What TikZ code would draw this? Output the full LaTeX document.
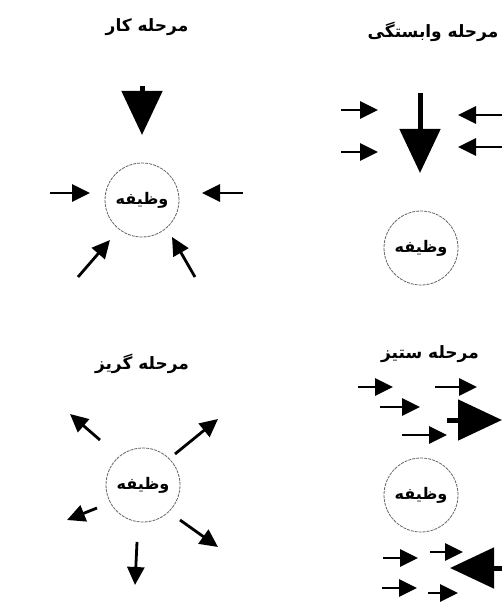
\documentclass[tikz,border=0pt]{standalone}
\usepackage{fontspec}
\usepackage{tikz}
\usetikzlibrary{arrows.meta}
\newfontfamily\arabicfont[Script=Arabic]{DejaVu Sans}
\TeXXeTstate=1

\begin{document}
\begin{tikzpicture}[
  x=1pt, y=-1pt,
  phase/.style={font=\arabicfont\bfseries\fontsize{17}{20}\selectfont, inner sep=0pt},
  task/.style={circle, draw=black!60, dash pattern=on 3pt off 1pt, line width=0.8pt,
               minimum size=74pt, inner sep=0pt,
               font=\arabicfont\bfseries\fontsize{16}{18}\selectfont},
  small/.style={line width=2.8pt, -{Triangle[length=18pt, width=17pt]}},
  big/.style={line width=5pt, -{Triangle[length=44pt, width=40pt]}},
]
  \useasboundingbox (0,0) rectangle (502,604);

  % work phase
  \node[phase] (workT) at (147,27) {\beginR مرحله کار\endR};
  \node[task] (workC) at (142,200) {\beginR وظیفه\endR};
  \draw[big] (142,86) -- (142,135);
  \draw[small] (50,193) -- (90,193);
  \draw[small] (243,193) -- (202,193);
  \draw[small] (78,277) -- (110,240);
  \draw[small] (195,277) -- (172,237);

  % dependence phase
  \node[phase] (depT) at (433,32) {\beginR مرحله وابستگی\endR};
  \node[task] (depC) at (421,248) {\beginR وظیفه\endR};
  \draw[big] (420,93) -- (420,173);
  \draw[small] (341,110) -- (378,110);
  \draw[small] (341,152) -- (378,152);
  \draw[small] (502,115) -- (458,115);
  \draw[small] (502,147) -- (458,147);

  % escape phase
  \node[phase] (escT) at (142,364) {\beginR مرحله گریز\endR};
  \node[task] (escC) at (143,485) {\beginR وظیفه\endR};
  \draw[small] (100,440) -- (70,414);
  \draw[small] (175,454) -- (218,419);
  \draw[small] (97,508) -- (67,520);
  \draw[small] (180,520) -- (218,547);
  \draw[small] (137,542) -- (135,585);

  % conflict phase
  \node[phase] (confT) at (430,354) {\beginR مرحله ستیز\endR};
  \node[task] (confC) at (421,495) {\beginR وظیفه\endR};
  \draw[small] (358,387) -- (393,387);
  \draw[small] (435,387) -- (477,387);
  \draw[small] (380,407) -- (420,407);
  \draw[small] (402,435) -- (447,435);
  \draw[big] (447,420) -- (502,420);
  \draw[small] (383,558) -- (418,558);
  \draw[small] (430,552) -- (463,552);
  \draw[small] (382,588) -- (417,588);
  \draw[small] (428,593) -- (458,593);
  \draw[big] (502,568) -- (450,568);
\end{tikzpicture}
\end{document}
